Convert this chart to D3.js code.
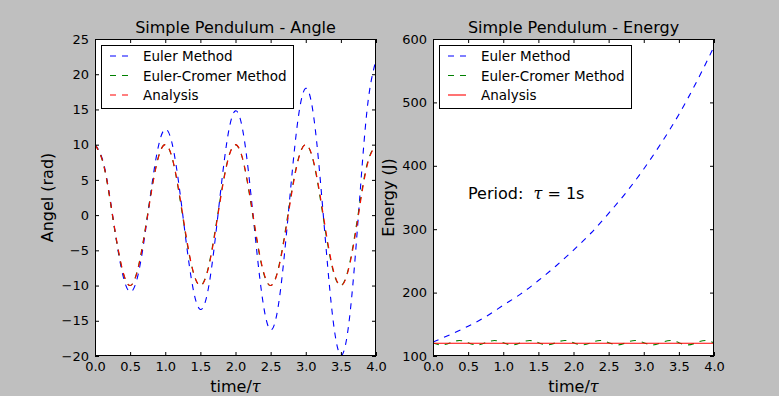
<!DOCTYPE html>
<html>
<head>
<meta charset="utf-8">
<script src="https://cdn.jsdelivr.net/npm/d3@7"></script>
<style>
  body { margin: 0; background: #bfbfbf; }
  svg { display: block; font-family: "DejaVu Sans", sans-serif; }
</style>
</head>
<body>
<div id="chart"></div>
<script>
// time axis, in units of the period tau (step 0.125 for angle, 0.25 for euler energy)
const tAngle = d3.range(33).map(i => i * 0.125)
const tEnergyEuler = d3.range(17).map(i => i * 0.25)

// angle (rad)
const angleEuler = [10, 7.25, 0, -7.57, -10.9, -7.92, 0, 8.41, 12.2, 8.84, 0, -9.26, -13.4, -9.76, 0, 10.25,
  14.8, 10.75, 0, -11.24, -16.3, -11.81, 0, 12.45, 18.0, 13.08, 0, -13.72, -19.9, -14.42, 0, 15.13, 22.0]
const angleCromer = [10, 7.0, -0.2, -7.2, -10, -6.95, 0.2, 7.2, 10, 7.0, -0.3, -7.2, -10, -6.9, 0.3, 7.2,
  10, 6.95, -0.3, -7.25, -10, -6.9, 0.35, 7.25, 10, 6.9, -0.4, -7.3, -10, -6.85, 0.4, 7.3, 10]
const angleAnalysis = [10, 7.07, 0, -7.07, -10, -7.07, 0, 7.07, 10, 7.07, 0, -7.07, -10, -7.07, 0, 7.07,
  10, 7.07, 0, -7.07, -10, -7.07, 0, 7.07, 10, 7.07, 0, -7.07, -10, -7.07, 0, 7.07, 10]

// energy (J)
const energyEuler = [122, 134, 147, 162, 180, 198, 219, 242, 267, 294, 325, 358, 395, 436, 481, 532, 588]
const energyCromer = [120.5, 117.5, 121, 124.5, 121, 117.5, 121, 124.5, 121, 117.5, 121, 124.5, 121, 117.5, 121, 124.5,
  121, 117.5, 121, 124.5, 121, 117.5, 121, 124.5, 121, 117.5, 121, 124.5, 121, 117.5, 121, 124.5, 121]
const energyAnalysis = [120, 120]
const tAnalysisEnergy = [0, 4]

const xTicks = d3.range(0, 4.01, 0.5)
const angleTicks = d3.range(-20, 26, 5)
const energyTicks = d3.range(100, 601, 100)

const W = 779, H = 396
const svg = d3.select("#chart").append("svg").attr("width", W).attr("height", H)
svg.append("rect").attr("width", W).attr("height", H).attr("fill", "#bfbfbf")

const BLUE = "#0000ff", GREEN = "#008000", RED = "#ff0000"
const LW = 1.1

function panel(opt) {
  const x = d3.scaleLinear().domain([0, 4]).range([opt.x0, opt.x1])
  const y = d3.scaleLinear().domain(opt.yDomain).range([opt.y1, opt.y0])
  const g = svg.append("g")

  g.append("rect")
    .attr("x", opt.x0).attr("y", opt.y0)
    .attr("width", opt.x1 - opt.x0).attr("height", opt.y1 - opt.y0)
    .attr("fill", "#fff")

  const clipId = "clip" + opt.id
  g.append("clipPath").attr("id", clipId).append("rect")
    .attr("x", opt.x0).attr("y", opt.y0)
    .attr("width", opt.x1 - opt.x0).attr("height", opt.y1 - opt.y0)

  const lines = g.append("g").attr("clip-path", `url(#${clipId})`)
  opt.series.forEach(s => {
    const line = d3.line().x((d, i) => x(s.t[i])).y(d => y(d)).curve(s.curve || d3.curveLinear)
    lines.append("path")
      .attr("d", line(s.values))
      .attr("fill", "none")
      .attr("stroke", s.color)
      .attr("stroke-width", LW)
      .attr("stroke-dasharray", s.dash ? "6,6" : null)
  })

  // axes, ticks pointing inwards on all four sides
  const fmtX = d3.format(".1f")
  const bottom = g.append("g").attr("transform", `translate(0,${opt.y1})`)
    .call(d3.axisBottom(x).tickValues(xTicks).tickFormat(fmtX).tickSizeInner(-4).tickSizeOuter(0).tickPadding(6))
  const top = g.append("g").attr("transform", `translate(0,${opt.y0})`)
    .call(d3.axisTop(x).tickValues(xTicks).tickFormat("").tickSizeInner(-4).tickSizeOuter(0))
  const left = g.append("g").attr("transform", `translate(${opt.x0},0)`)
    .call(d3.axisLeft(y).tickValues(opt.yTicks).tickFormat(d3.format("d")).tickSizeInner(-4).tickSizeOuter(0).tickPadding(6))
  const right = g.append("g").attr("transform", `translate(${opt.x1},0)`)
    .call(d3.axisRight(y).tickValues(opt.yTicks).tickFormat("").tickSizeInner(-4).tickSizeOuter(0))
  ;[bottom, top, left, right].forEach(a => {
    a.select(".domain").remove()
    a.selectAll("line").attr("stroke", "#000")
    a.selectAll("text").attr("fill", "#000").style("font-size", "13px").style("font-family", "DejaVu Sans")
  })

  g.append("rect")
    .attr("x", opt.x0 + 0.5).attr("y", opt.y0 + 0.5)
    .attr("width", opt.x1 - opt.x0 - 1).attr("height", opt.y1 - opt.y0 - 1)
    .attr("fill", "none").attr("stroke", "#000").attr("stroke-width", 1)

  // title
  g.append("text")
    .attr("x", (opt.x0 + opt.x1) / 2).attr("y", 33)
    .attr("text-anchor", "middle").style("font-size", "16px")
    .text(opt.title)

  // x label: time/τ
  const xl = g.append("text")
    .attr("x", (opt.x0 + opt.x1) / 2).attr("y", 392)
    .attr("text-anchor", "middle").style("font-size", "16px")
  xl.append("tspan").text("time/")
  xl.append("tspan").style("font-family", "DejaVu Serif").style("font-style", "italic").text("τ")

  // y label
  g.append("text")
    .attr("transform", `translate(${opt.yLabelX},${(opt.y0 + opt.y1) / 2}) rotate(-90)`)
    .attr("text-anchor", "middle").style("font-size", "16px")
    .text(opt.yLabel)

  // legend
  const lg = g.append("g")
  lg.append("rect")
    .attr("x", opt.x0 + 6.5).attr("y", 45.5)
    .attr("width", 192).attr("height", 63)
    .attr("fill", "#fff").attr("stroke", "#000").attr("stroke-width", 1)
  opt.series.forEach((s, i) => {
    const cy = 56 + i * 19.5
    lg.append("line")
      .attr("x1", opt.x0 + 15).attr("x2", opt.x0 + 33)
      .attr("y1", cy).attr("y2", cy)
      .attr("stroke", s.color).attr("stroke-width", LW)
      .attr("stroke-dasharray", s.dash ? "6,6" : null)
    lg.append("text")
      .attr("x", opt.x0 + 48).attr("y", cy + 5)
      .style("font-size", "13.5px")
      .text(s.name)
  })
  return {x, y, g}
}

panel({
  id: "a", x0: 95, x1: 376, y0: 39, y1: 356,
  yDomain: [-20, 25], yTicks: angleTicks,
  title: "Simple Pendulum - Angle", yLabel: "Angel (rad)", yLabelX: 53,
  series: [
    {name: "Euler Method", t: tAngle, values: angleEuler, color: BLUE, dash: true, curve: d3.curveNatural},
    {name: "Euler-Cromer Method", t: tAngle, values: angleCromer, color: GREEN, dash: true, curve: d3.curveNatural},
    {name: "Analysis", t: tAngle, values: angleAnalysis, color: RED, dash: true, curve: d3.curveNatural}
  ]
})

const right = panel({
  id: "e", x0: 433, x1: 714, y0: 39, y1: 356,
  yDomain: [100, 600], yTicks: energyTicks,
  title: "Simple Pendulum - Energy", yLabel: "Energy (J)", yLabelX: 394,
  series: [
    {name: "Euler Method", t: tEnergyEuler, values: energyEuler, color: BLUE, dash: true, curve: d3.curveMonotoneX},
    {name: "Euler-Cromer Method", t: tAngle, values: energyCromer, color: GREEN, dash: true, curve: d3.curveNatural},
    {name: "Analysis", t: tAnalysisEnergy, values: energyAnalysis, color: RED, dash: false}
  ]
})

const per = right.g.append("text")
  .attr("x", 468).attr("y", 199)
  .style("font-size", "16px")
  .style("white-space", "pre")
per.append("tspan").text("Period:\u00a0\u00a0")
per.append("tspan").style("font-family", "DejaVu Serif").style("font-style", "italic").text("τ")
per.append("tspan").text(" = 1s")
</script>
</body>
</html>
